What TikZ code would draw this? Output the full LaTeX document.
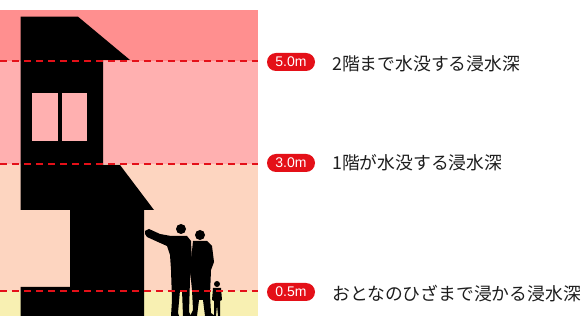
\documentclass[tikz,border=0pt]{standalone}
\usepackage{fontspec}
\setsansfont{Liberation Sans}
\newfontfamily\jpfont{Noto Sans CJK JP}
\usetikzlibrary{positioning}

\definecolor{bandtop}{RGB}{255,143,143}
\definecolor{bandtwo}{RGB}{255,176,176}
\definecolor{bandone}{RGB}{253,213,192}
\definecolor{bandlow}{RGB}{248,240,178}
\definecolor{depthred}{RGB}{228,16,24}
\definecolor{labelgray}{RGB}{30,30,30}

\begin{document}
\begin{tikzpicture}[x=1pt,y=-1pt,
  level/.style={draw=depthred,line width=1.1pt,dash pattern=on 7pt off 5pt},
  badge/.style={fill=depthred,text=white,rounded corners=9pt,minimum width=48pt,minimum height=18pt,inner sep=0pt,font=\sffamily\fontsize{14}{14}\selectfont},
  caption/.style={anchor=west,inner sep=0pt,text=labelgray,font=\jpfont\fontsize{17.8}{17.8}\selectfont}]
\useasboundingbox (0,0) rectangle (587,320);
\fill[white] (0,0) rectangle (587,320);
% water depth bands
\fill[bandtop] (0,10) rectangle (258,61);
\fill[bandtwo] (0,61) rectangle (258,164);
\fill[bandone] (0,164) rectangle (258,291);
\fill[bandlow] (0,291) rectangle (258,316);
% house
\fill[black] (20.7,16.7) -- (78,16.7) -- (130,60) -- (103,60) -- (103,165) -- (120,165) -- (154,210) -- (144,210) -- (144,316) -- (20.7,316) -- (20.7,287) -- (70,287) -- (70,210) -- (20.7,210) -- cycle;
\fill[bandtwo] (32.3,93.3) rectangle (58.3,140.7);
\fill[bandtwo] (61.7,93.3) rectangle (87.3,140.7);
% people
\fill[black] (181,229) circle (5);
\fill[black] (145,231) -- (149,229) -- (160,234) -- (171,236) -- (187,236) -- (191,241) -- (192,262) -- (190,280) -- (189,312) -- (191,316) -- (183,316) -- (182,290) -- (180,290) -- (178,313) -- (179,316) -- (171,316) -- (172,300) -- (171,270) -- (170,255) -- (167,246) -- (158,242) -- (147,237) -- (145,234) -- cycle;
\fill[black] (200,235) circle (5);
\fill[black] (193,241) -- (207,241) -- (212,246) -- (214,262) -- (211,270) -- (210,295) -- (211,313) -- (215,316) -- (205,316) -- (203,300) -- (199,300) -- (197,316) -- (190,316) -- (193,310) -- (192,290) -- (190,270) -- cycle;
\fill[black] (217,284) circle (3);
\fill[black] (213,288) -- (221,288) -- (222,300) -- (220,301) -- (220,316) -- (218,316) -- (217,305) -- (216,316) -- (214,316) -- (214,301) -- (212,300) -- cycle;
% depth lines
\draw[level] (0,61) -- (258,61);
\draw[level] (0,164) -- (258,164);
\draw[level] (0,291) -- (258,291);
% badges and captions
\node[badge] (d50) at (291,62) {5.0m};
\node[badge] (d30) at (291,163) {3.0m};
\node[badge] (d05) at (291,292) {0.5m};
\node[caption] (c50) at (332,64) {2階まで水没する浸水深};
\node[caption] (c30) at (332,163) {1階が水没する浸水深};
\node[caption] (c05) at (332,294) {おとなのひざまで浸かる浸水深};
\end{tikzpicture}
\end{document}
